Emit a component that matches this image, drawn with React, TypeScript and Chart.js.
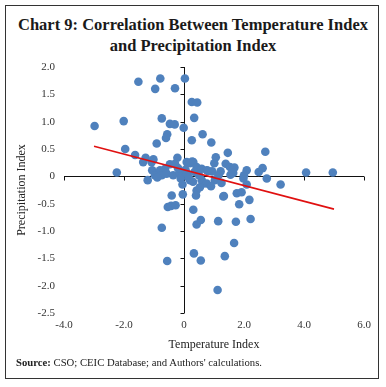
import { useEffect, useRef } from "react";
import { Chart, registerables } from "chart.js";

Chart.register(...registerables);

const TITLE_LINES = ["Chart 9: Correlation Between Temperature Index", "and Precipitation Index"];
const X_TITLE = "Temperature Index";
const Y_TITLE = "Precipitation Index";
const SOURCE_LABEL = "Source:";
const SOURCE_TEXT = " CSO; CEIC Database; and Authors' calculations.";

const X_MIN = -4;
const X_MAX = 6;
const X_STEP = 2;
const Y_MIN = -2.5;
const Y_MAX = 2.0;
const Y_STEP = 0.5;

const temperatureIndex = [
  -1.52, -0.79, -0.96, -0.3, 0.03, 0.26, 0.44, 0.34, -2.98, -2.01,
  -0.74, -0.47, -0.31, -0.01, -0.56, -0.6, -0.91, 0.26, 0.62, 0.91,
  -1.96, -1.63, -1.28, -1.02, -1.36, -1.08, -0.22, -0.47, -0.3, 0.09,
  0.27, 1.06, 1.46, 2.71, 1.01, -2.24, -1.06, -0.8, -0.63, -0.97,
  -0.74, -0.58, -0.36, -0.13, -1.21, -0.89, -0.11, 0.2, 0.31, 0.42,
  0.59, 0.76, 0.2, 0.59, 0.64, 0.76, 0.42, 0.53, -0.41, -0.04,
  0.4, 2.62, 2.49, 2.09, 1.39, 1.53, 1.68, 1.62, 1.22, 0.8,
  0.94, 4.07, 4.96, 2.76, 1.98, 3.22, 2.09, 1.33, 1.76, 1.92,
  1.84, 2.18, 0.31, 0.56, 0.42, 1.14, 1.73, 2.22, 1.67, 0.33,
  0.56, 1.36, 1.12, -0.54, -0.43, -0.28, -0.74, -0.56, 1.03, 1.31,
  1.55, 1.64, 0.1, 0.15, 0.35, 0.5, -0.2, 0.05, 1.25, 0.9,
  -0.05, 0.3, 1.15, 2.0,
];

const precipitationIndex = [
  1.73, 1.79, 1.6, 1.61, 1.79, 1.36, 1.35, 1.07, 0.92, 1.01,
  1.06, 0.96, 0.95, 0.89, 0.77, 0.7, 0.6, 0.66, 0.77, 0.62,
  0.5, 0.39, 0.34, 0.31, 0.26, 0.26, 0.34, 0.22, 0.23, 0.26,
  0.27, 0.35, 0.43, 0.45, 0.24, 0.07, 0.11, 0.11, 0.14, 0.02,
  0.02, 0.05, 0.02, 0.05, -0.07, -0.02, -0.04, 0.24, 0.26, 0.17,
  0.14, 0.11, -0.07, -0.07, -0.13, -0.13, -0.26, -0.2, -0.35, -0.33,
  -0.35, 0.15, 0.08, 0.11, 0.23, 0.17, 0.16, 0.1, 0.09, 0.1,
  0.09, 0.07, 0.07, -0.04, -0.04, -0.15, -0.15, -0.36, -0.31, -0.29,
  -0.51, -0.43, -0.61, -0.8, -0.88, -0.82, -0.83, -0.78, -1.22, -1.41,
  -1.54, -1.46, -2.08, -0.56, -0.54, -0.53, -0.94, -1.55, -0.07, -0.37,
  0.03, 0.06, 0.05, -0.02, 0.08, 0.02, 0.15, 0.12, -0.12, -0.18,
  -0.15, -0.1, 0.02, 0.02,
];

const trendX = [-3.0, 5.0];
const trendY = [0.55, -0.6];

const POINT_COLOR = "#4F81BD";
const TREND_COLOR = "#E01010";
const SERIF = "'Liberation Serif', 'Times New Roman', serif";

const fmt = (v: number) => (v === 0 ? "0" : v.toFixed(1));

const zeroAxesPlugin = {
  id: "zeroAxes",
  beforeDatasetsDraw(chart: any) {
    const { ctx, scales } = chart;
    const xs = scales.x;
    const ys = scales.y;
    const x0 = Math.round(xs.getPixelForValue(0)) + 0.5;
    const y0 = Math.round(ys.getPixelForValue(0)) + 0.5;
    ctx.save();
    ctx.strokeStyle = "#111";
    ctx.lineWidth = 1;
    ctx.beginPath();
    ctx.moveTo(xs.left, y0);
    ctx.lineTo(xs.right, y0);
    ctx.moveTo(x0, ys.top);
    ctx.lineTo(x0, ys.bottom);
    for (const t of xs.ticks) {
      const px = Math.round(xs.getPixelForValue(t.value)) + 0.5;
      ctx.moveTo(px, y0);
      ctx.lineTo(px, y0 + 4);
    }
    for (const t of ys.ticks) {
      const py = Math.round(ys.getPixelForValue(t.value)) + 0.5;
      ctx.moveTo(x0, py);
      ctx.lineTo(x0 - 4, py);
    }
    ctx.stroke();
    ctx.restore();
  },
};

export default function App() {
  const canvasRef = useRef<HTMLCanvasElement | null>(null);

  useEffect(() => {
    if (!canvasRef.current) return;
    const points = temperatureIndex.map((x, i) => ({ x, y: precipitationIndex[i] }));
    const trend = trendX.map((x, i) => ({ x, y: trendY[i] }));
    const chart = new Chart(canvasRef.current, {
      type: "scatter",
      data: {
        datasets: [
          {
            label: "Trend",
            data: trend,
            showLine: true,
            borderColor: TREND_COLOR,
            borderWidth: 1.6,
            pointRadius: 0,
            fill: false,
          },
          {
            label: "Observations",
            data: points,
            backgroundColor: POINT_COLOR,
            borderColor: POINT_COLOR,
            borderWidth: 0,
            pointRadius: 4.3,
          },
        ],
      },
      options: {
        animation: false,
        responsive: true,
        maintainAspectRatio: false,
        layout: { padding: { left: 0, right: 22, top: 67, bottom: 0 } },
        plugins: {
          legend: { display: false },
          tooltip: { enabled: false },
          title: { display: false },
        },
        scales: {
          x: {
            type: "linear",
            min: X_MIN,
            max: X_MAX,
            grid: { display: false, drawTicks: false },
            border: { display: false },
            ticks: {
              stepSize: X_STEP,
              padding: 6,
              color: "#333",
              font: { family: SERIF, size: 11 },
              callback: (v: any) => fmt(Number(v)),
            },
            title: {
              display: true,
              text: X_TITLE,
              color: "#222",
              font: { family: SERIF, size: 12 },
              padding: { top: 0, bottom: 35 },
            },
            afterFit: (s: any) => {
              s.height = 74;
            },
          },
          y: {
            type: "linear",
            min: Y_MIN,
            max: Y_MAX,
            grid: { display: false, drawTicks: false },
            border: { display: false },
            ticks: {
              stepSize: Y_STEP,
              padding: 9,
              color: "#333",
              font: { family: SERIF, size: 11 },
              callback: (v: any) => fmt(Number(v)),
            },
            title: {
              display: true,
              text: Y_TITLE,
              color: "#222",
              font: { family: SERIF, size: 12 },
              padding: { top: 15, bottom: 0 },
            },
            afterFit: (s: any) => {
              s.width = 64;
            },
          },
        },
      },
      plugins: [zeroAxesPlugin],
    });
    return () => chart.destroy();
  }, []);

  return (
    <div style={{ position: "absolute", left: 0, top: 0, width: 386, height: 387, background: "#fff" }}>
      <div
        style={{
          position: "absolute",
          left: 5,
          top: 5,
          width: 372,
          height: 372,
          border: "1.5px solid #333",
        }}
      />
      <div
        style={{
          position: "absolute",
          left: 0,
          top: 14,
          width: 386,
          textAlign: "center",
          fontFamily: SERIF,
          fontWeight: "bold",
          fontSize: 16.5,
          lineHeight: "21px",
          color: "#1a1a1a",
        }}
      >
        {TITLE_LINES.map((l) => (
          <div key={l}>{l}</div>
        ))}
      </div>
      <div style={{ position: "absolute", left: 0, top: 0, width: 386, height: 387 }}>
        <canvas ref={canvasRef} />
      </div>
      <div
        style={{
          position: "absolute",
          left: 16,
          top: 356,
          fontFamily: SERIF,
          fontSize: 10.7,
          lineHeight: "12px",
          color: "#222",
          whiteSpace: "nowrap",
        }}
      >
        <b>{SOURCE_LABEL}</b>
        {SOURCE_TEXT}
      </div>
    </div>
  );
}
